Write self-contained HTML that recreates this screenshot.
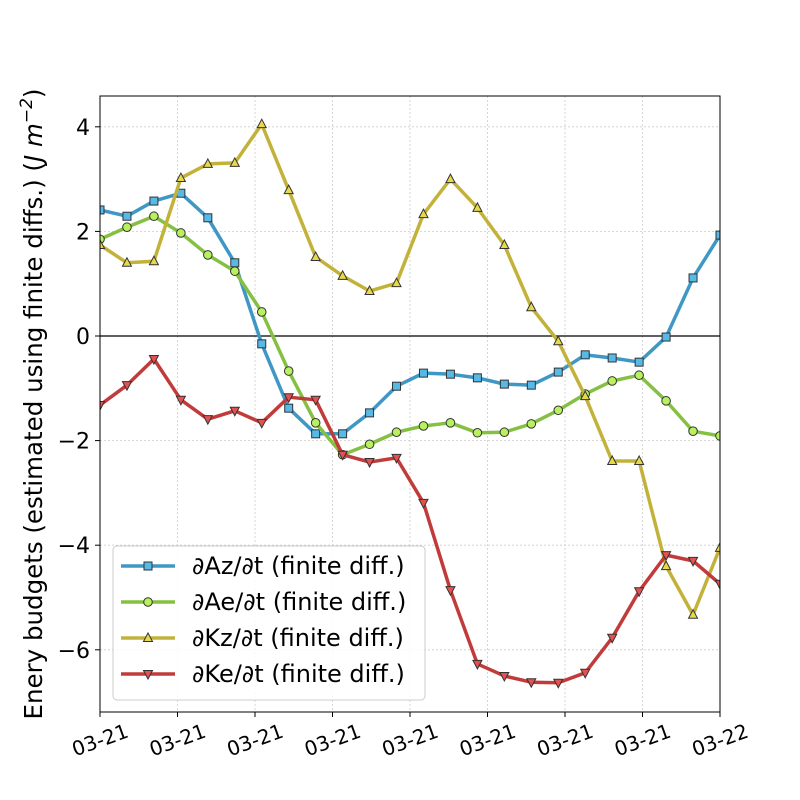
<!DOCTYPE html>
<html><head><meta charset="utf-8"><style>body{margin:0;background:#fff}svg{display:block;font-family:"DejaVu Sans","Liberation Sans",sans-serif}</style></head>
<body>
<svg id="chart" width="800" height="800"></svg>
<script>
const categories = Array.from({length:24},(_,i)=>'t'+i);
const az = [2.41,2.29,2.58,2.73,2.26,1.40,-0.15,-1.38,-1.87,-1.87,-1.47,-0.96,-0.71,-0.73,-0.80,-0.92,-0.94,-0.69,-0.36,-0.42,-0.50,-0.02,1.11,1.93];
const ae = [1.85,2.08,2.29,1.97,1.55,1.24,0.46,-0.67,-1.66,-2.27,-2.07,-1.84,-1.72,-1.66,-1.85,-1.84,-1.68,-1.42,-1.11,-0.86,-0.75,-1.24,-1.82,-1.91];
const kz = [1.74,1.40,1.43,3.02,3.29,3.31,4.05,2.79,1.51,1.15,0.86,1.01,2.33,3.00,2.45,1.74,0.55,-0.10,-1.15,-2.39,-2.39,-4.40,-5.33,-4.05];
const ke = [-1.32,-0.94,-0.44,-1.22,-1.59,-1.43,-1.66,-1.17,-1.22,-2.27,-2.41,-2.33,-3.19,-4.86,-6.27,-6.50,-6.62,-6.63,-6.44,-5.77,-4.88,-4.19,-4.30,-4.74];
const yTicks = [4,2,0,-2,-4,-6];
const xTickLabels = ['03-21','03-21','03-21','03-21','03-21','03-21','03-21','03-21','03-22'];
const seriesNames = ['∂Az/∂t (finite diff.)','∂Ae/∂t (finite diff.)','∂Kz/∂t (finite diff.)','∂Ke/∂t (finite diff.)'];

const L=100,R=720,T=96,B=712;
const X=i=>L+(R-L)*i/(categories.length-1);
const Y=v=>336-v*52.3;
const NS='http://www.w3.org/2000/svg';
const svg=document.getElementById('chart');
function mk(tag,attrs,parent){const e=document.createElementNS(NS,tag);for(const k in attrs)e.setAttribute(k,attrs[k]);(parent||svg).appendChild(e);return e;}
const defs=mk('defs',{});const cp=mk('clipPath',{id:'clip'},defs);mk('rect',{x:L,y:T,width:R-L,height:B-T},cp);
xTickLabels.forEach((lab,i)=>{const x=L+(R-L)*i/(xTickLabels.length-1);
 const g=mk('line',{x1:x,x2:x,y1:T,y2:B,stroke:'#ccc','stroke-width':0.8,'stroke-dasharray':'2,2'});
 
 
 mk('line',{x1:x,x2:x,y1:B,y2:B+5,stroke:'#000','stroke-width':1});
 const t=mk('text',{x:x,y:B+35,'font-size':20,'text-anchor':'middle',transform:`rotate(-20 ${x} ${B+28})`});t.textContent=lab;
 
 
});
yTicks.forEach(v=>{const y=Y(v);
 const g=mk('line',{x1:L,x2:R,y1:y,y2:y,stroke:'#ccc','stroke-width':0.8,'stroke-dasharray':'2,2'});
 
 
 mk('line',{x1:L-5,x2:L,y1:y,y2:y,stroke:'#000','stroke-width':1});
 const t=mk('text',{x:L-10,y:y+8,'font-size':22,'text-anchor':'end'});t.textContent=(v<0?'−':'')+Math.abs(v);
 
 
});
const zl=mk('line',{x1:L,x2:R,y1:Y(0),y2:Y(0),stroke:'#000','stroke-width':1.2});


const series=[[az,'#3f97c5','#56b9e6','square'],[ae,'#86c043','#b8f05e','circle'],[kz,'#c3b23a','#e6da4a','tri'],[ke,'#c23b3b','#e55050','tridown']];
function marker(kind,x,y,fill,parent,name){let m;
 if(kind==='square')m=mk('rect',{x:x-4,y:y-4,width:8,height:8},parent);
 else if(kind==='circle')m=mk('circle',{cx:x,cy:y,r:4.3},parent);
 else if(kind==='tri')m=mk('polygon',{points:`${x},${y-5} ${x-4.5},${y+3.5} ${x+4.5},${y+3.5}`},parent);
 else m=mk('polygon',{points:`${x},${y+5} ${x-4.5},${y-3.5} ${x+4.5},${y-3.5}`},parent);
 m.setAttribute('fill',fill);m.setAttribute('stroke','#333');m.setAttribute('stroke-width',1);
 
 
}
const plot=mk('g',{'clip-path':'url(#clip)'});
series.forEach(([d,lc,mc,kind],s)=>{
 const p=mk('polyline',{points:d.map((v,i)=>X(i)+','+Y(v)).join(' '),fill:'none',stroke:lc,'stroke-width':3.5,'stroke-linejoin':'round'},plot);
 
 
 d.forEach((v,i)=>marker(kind,X(i),Y(v),mc,plot,'data-point'));
});
const fr=mk('rect',{x:L,y:T,width:R-L,height:B-T,fill:'none',stroke:'#000','stroke-width':1});


const yl=mk('text',{x:0,y:0,'font-size':24.5,'text-anchor':'middle',transform:'translate(42 404) rotate(-90)'});
yl.innerHTML='Enery budgets (estimated using finite diffs.) (<tspan font-style="italic">J m</tspan><tspan font-style="italic" font-size="17" dy="-10">−2</tspan><tspan dy="10">)</tspan>';


const lg=mk('g',{});


mk('rect',{x:113,y:546,width:312,height:154,rx:4,fill:'#fff','fill-opacity':0.85,stroke:'#ccc'},lg);
series.forEach(([d,lc,mc,kind],s)=>{const y=566+s*36;
 mk('line',{x1:121,x2:175,y1:y,y2:y,stroke:lc,'stroke-width':3.5},lg);
 marker(kind,148,y,mc,lg,'legend-marker');
 const t=mk('text',{x:192,y:y+8,'font-size':24},lg);t.textContent=seriesNames[s];
 
 
});
</script>
</body></html>
